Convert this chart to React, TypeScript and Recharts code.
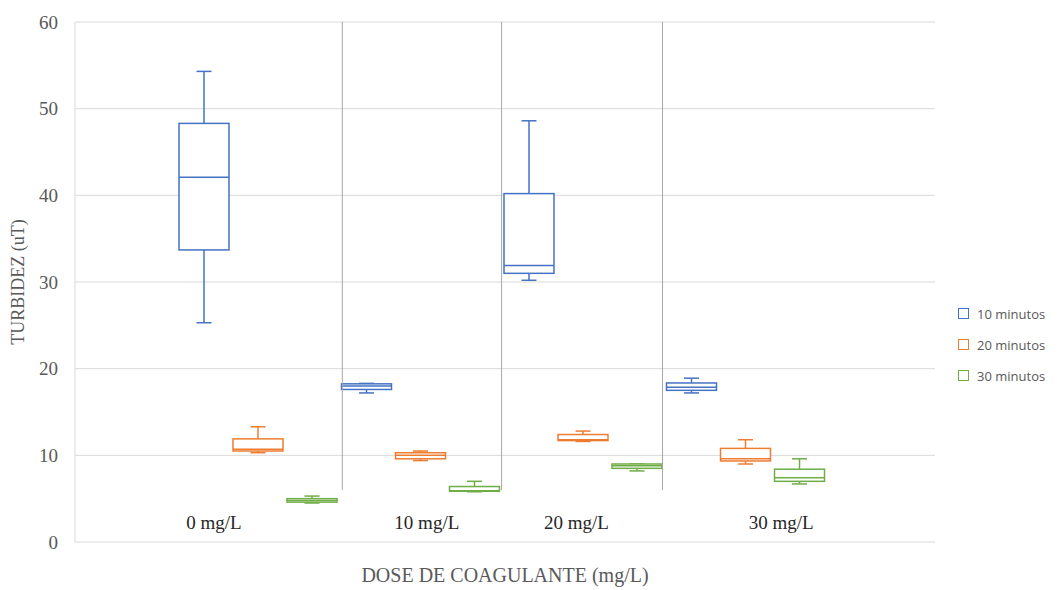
import {
  Bar,
  CartesianGrid,
  ComposedChart,
  Legend,
  ReferenceLine,
  XAxis,
  YAxis,
} from "recharts";

// dose groups and the label positions (in group units) used in the original
const doses = ["0 mg/L", "10 mg/L", "20 mg/L", "30 mg/L"];
const doseLabelPos = [0.23, 1.54, 2.46, 3.72];
const dividers = [1.02, 2.0, 2.99];

// [min, q1, median, q3, max] per dose
const min10 = [
  [25.3, 33.7, 42.1, 48.3, 54.3],
  [17.2, 17.6, 18.0, 18.25, 18.3],
  [30.2, 31.0, 31.9, 40.2, 48.6],
  [17.2, 17.5, 17.85, 18.35, 18.9],
];
const min20 = [
  [10.3, 10.5, 10.7, 11.9, 13.3],
  [9.4, 9.6, 10.0, 10.3, 10.5],
  [11.6, 11.7, 11.8, 12.4, 12.8],
  [9.0, 9.35, 9.6, 10.8, 11.8],
];
const min30 = [
  [4.5, 4.6, 4.8, 5.0, 5.3],
  [5.8, 5.85, 5.9, 6.4, 7.0],
  [8.2, 8.5, 8.8, 9.0, 9.0],
  [6.7, 7.0, 7.4, 8.4, 9.6],
];

const yTicks = [0, 10, 20, 30, 40, 50, 60];

const data = doses.map((dose, i) => ({
  dose,
  pos: i + 0.5,
  s10: min10[i],
  s20: min20[i],
  s30: min30[i],
}));

const serif = "'Liberation Serif', 'Times New Roman', serif";

const drawBox = (props: any, key: string, color: string) => {
  const { x, y, width, height, payload } = props;
  const st = payload[key];
  if (!st) return <g />;
  const [mn, q1, md, q3, mx] = st;
  const top = Math.min(y, y + height);
  const h = Math.abs(height);
  const py = (v: number) => (mx === mn ? top : top + (h * (mx - v)) / (mx - mn));
  const cx = x + width / 2;
  const cap = 7.5;
  return (
    <g stroke={color} strokeWidth={1.5} fill="none">
      <line x1={cx} x2={cx} y1={py(mx)} y2={py(q3)} />
      <line x1={cx} x2={cx} y1={py(q1)} y2={py(mn)} />
      <line x1={cx - cap} x2={cx + cap} y1={py(mx)} y2={py(mx)} />
      <line x1={cx - cap} x2={cx + cap} y1={py(mn)} y2={py(mn)} />
      <rect x={x} y={py(q3)} width={width} height={py(q1) - py(q3)} fill="#fff" />
      <line x1={x} x2={x + width} y1={py(md)} y2={py(md)} />
    </g>
  );
};

const DoseTick = (props: any) => {
  const { x, y, index } = props;
  return (
    <text
      x={x}
      y={y - 20}
      textAnchor="middle"
      dominantBaseline="central"
      fontFamily={serif}
      fontSize={19}
      fill="#262626"
    >
      {doses[index]}
    </text>
  );
};

const renderLegend = (props: any) => (
  <div style={{ fontFamily: "'Open Sans', sans-serif", fontSize: 13, color: "#595959" }}>
    {props.payload.map((e: any) => (
      <div key={e.value} style={{ display: "flex", alignItems: "center", height: 31 }}>
        <span
          style={{
            width: 11,
            height: 11,
            border: `1.5px solid ${e.color}`,
            marginRight: 8,
            boxSizing: "border-box",
            display: "inline-block",
          }}
        />
        <span>{e.value}</span>
      </div>
    ))}
  </div>
);

const App = () => {
  return (
    <ComposedChart
      width={1050}
      height={582}
      data={data}
      margin={{ top: 14, right: 123, bottom: 0, left: 0 }}
      barGap={4}
    >
      <CartesianGrid vertical={false} stroke="#d9d9d9" />
      <XAxis
        xAxisId="cat"
        dataKey="dose"
        type="category"
        hide
        padding={{ left: 102, right: 108 }}
      />
      <XAxis
        dataKey="pos"
        type="number"
        domain={[-0.625, 4.667]}
        allowDataOverflow
        ticks={doseLabelPos}
        interval={0}
        axisLine={false}
        tickLine={false}
        tickSize={0}
        tickMargin={0}
        height={48}
        tick={<DoseTick />}
        label={{
          value: "DOSE DE COAGULANTE (mg/L)",
          position: "insideBottom",
          offset: 8,
          fontFamily: serif,
          fontSize: 20,
          fill: "#595959",
        }}
      />
      <YAxis
        domain={[0, 60]}
        ticks={yTicks}
        width={67}
        axisLine={{ stroke: "#d9d9d9" }}
        tickLine={false}
        tickSize={8}
        tickMargin={9}
        tick={{ fontFamily: serif, fontSize: 19, fill: "#595959" }}
        label={{
          value: "TURBIDEZ (uT)",
          angle: -90,
          position: "insideLeft",
          offset: 10,
          fontFamily: serif,
          fontSize: 18,
          fill: "#595959",
          style: { textAnchor: "middle" },
        }}
      />
      {dividers.map((d) => (
        <ReferenceLine
          key={d}
          segment={[
            { x: d, y: 6 },
            { x: d, y: 60 },
          ]}
          stroke="#a6a6a6"
          strokeWidth={1}
        />
      ))}
      <Bar
        xAxisId="cat"
        name="10 minutos"
        dataKey={(d: any) => [d.s10[0], d.s10[4]]}
        fill="#4472C4"
        barSize={50}
        isAnimationActive={false}
        shape={(p: any) => drawBox(p, "s10", "#4472C4")}
      />
      <Bar
        xAxisId="cat"
        name="20 minutos"
        dataKey={(d: any) => [d.s20[0], d.s20[4]]}
        fill="#ED7D31"
        barSize={50}
        isAnimationActive={false}
        shape={(p: any) => drawBox(p, "s20", "#ED7D31")}
      />
      <Bar
        xAxisId="cat"
        name="30 minutos"
        dataKey={(d: any) => [d.s30[0], d.s30[4]]}
        fill="#70AD47"
        barSize={50}
        isAnimationActive={false}
        shape={(p: any) => drawBox(p, "s30", "#70AD47")}
      />
      <Legend
        layout="horizontal"
        verticalAlign="middle"
        content={renderLegend}
        wrapperStyle={{ left: 950, top: 290, width: 100 }}
      />
    </ComposedChart>
  );
};

export default App;
